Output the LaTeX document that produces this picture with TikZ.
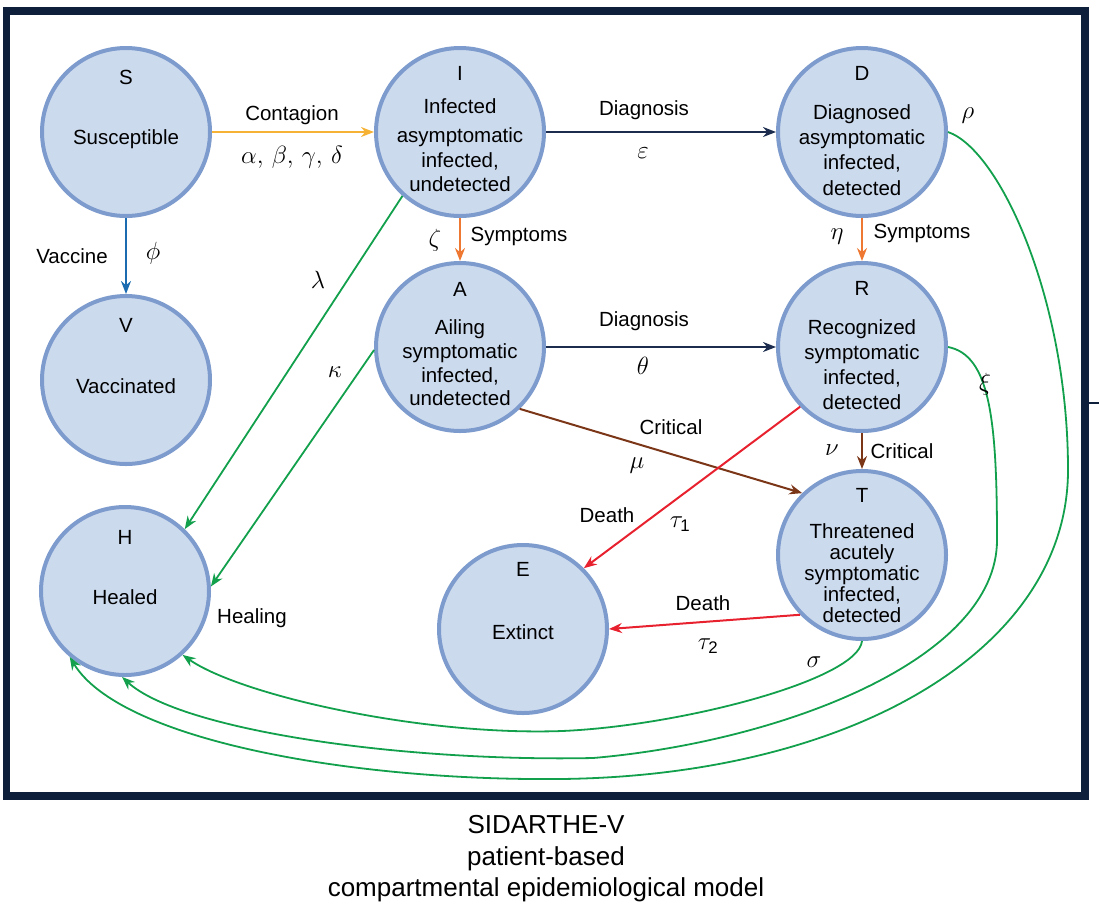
\documentclass[tikz,border=0pt]{standalone}
\usepackage{fontspec}
\setmainfont{Liberation Sans}
\usepackage{amsmath}
\usetikzlibrary{arrows.meta,calc}
\definecolor{framec}{HTML}{0D1F3A}
\definecolor{cfill}{HTML}{CCDAEE}
\definecolor{cborder}{HTML}{7D9BCD}
\definecolor{corange}{HTML}{F6B234}
\definecolor{csympt}{HTML}{EE7832}
\definecolor{cnavy}{HTML}{1B2C4E}
\definecolor{cvblue}{HTML}{1A6BAF}
\definecolor{cgreen}{HTML}{12A04C}
\definecolor{cbrown}{HTML}{7B3517}
\definecolor{cred}{HTML}{E8212F}
\begin{document}
\begin{tikzpicture}[x=1pt,y=1pt,
  comp/.style={circle,draw=cborder,fill=cfill,line width=4pt,minimum size=168pt,inner sep=0pt},
  lbl/.style={font=\fontsize{20.5}{24}\selectfont,inner sep=0pt},
  mlbl/.style={font=\fontsize{24}{28}\selectfont,inner sep=0pt},
  desc/.style={lbl,align=center},
  con/.style={line width=2pt,-{Stealth[length=13pt,width=10pt]}},
  gcon/.style={line width=1.8pt,cgreen,-{Stealth[length=13pt,width=10pt]}},
]
\useasboundingbox (0,0) rectangle (1099,-906);
\draw[framec,line width=7.5pt] (6.5,-11) rectangle (1085,-796);
\draw[framec,line width=1.5pt] (1088,-403) -- (1099,-403);

% compartments
\node[comp] (S) at (126,-132) {};
\node[comp] (I) at (460,-132) {};
\node[comp] (D) at (862,-132) {};
\node[comp] (V) at (126,-380) {};
\node[comp] (A) at (460,-347) {};
\node[comp] (R) at (862,-347) {};
\node[comp] (T) at (862,-555) {};
\node[comp] (H) at (125,-591) {};
\node[comp] (E) at (523,-629) {};

% letters
\node[lbl] (Sl) at ($(S)+(0,55)$) {S};
\node[lbl] (Il) at ($(I)+(0,59)$) {I};
\node[lbl] (Dl) at ($(D)+(0,59)$) {D};
\node[lbl] (Vl) at ($(V)+(0,55)$) {V};
\node[lbl] (Al) at ($(A)+(0,58)$) {A};
\node[lbl] (Rl) at ($(R)+(0,59)$) {R};
\node[lbl] (Tl) at ($(T)+(0,60)$) {T};
\node[lbl] (Hl) at ($(H)+(0,54)$) {H};
\node[lbl] (El) at ($(E)+(0,60)$) {E};

% descriptions
\node[desc] (Sd) at ($(S)+(0,-7)$) {Susceptible};
\node[desc] (Vd) at ($(V)+(0,-6)$) {Vaccinated};
\node[desc] (Hd) at ($(H)+(0,-6)$) {Healed};
\node[desc] (Ed) at ($(E)+(0,-3)$) {Extinct};
\node[desc,font=\fontsize{20.5}{24.5}\selectfont] (Id) at ($(I)+(0,-13)$) {Infected\\[5pt]asymptomatic\\infected,\\undetected};
\node[desc,font=\fontsize{20.5}{25.3}\selectfont] (Dd) at ($(D)+(0,-18)$) {Diagnosed\\asymptomatic\\infected,\\detected};
\node[desc,font=\fontsize{20.5}{23.7}\selectfont] (Ad) at ($(A)+(0,-16)$) {Ailing\\symptomatic\\infected,\\undetected};
\node[desc,font=\fontsize{20.5}{25}\selectfont] (Rd) at ($(R)+(0,-18)$) {Recognized\\symptomatic\\infected,\\detected};
\node[desc,font=\fontsize{20.5}{21}\selectfont] (Td) at ($(T)+(0,-18)$) {Threatened\\acutely\\symptomatic\\infected,\\detected};

% straight connectors
\draw[con,corange,line width=2.3pt] (S) -- (I);
\draw[con,cnavy] (I) -- (D);
\draw[con,cvblue] (S) -- (V);
\draw[con,csympt] (I) -- (A);
\draw[con,csympt] (D) -- (R);
\draw[con,cnavy] (A) -- (R);
\draw[con,cbrown] (R) -- (T);
\draw[gcon] (I.228) -- (H.46);
\draw[gcon] (A.182) -- (H.3);
\draw[con,cbrown] (A.-46) -- (T.134);
\draw[con,cred] (R.224) -- (E.45);
\draw[con,cred] (T.224) -- (E.0);

% curved healing connectors
\draw[gcon] (T.270) .. controls (858,-680) and (680,-726) .. (562,-731)
  .. controls (420,-736) and (240,-695) .. (H.312);
\draw[gcon] (R.0) .. controls (990,-355) and (997,-420) .. (997,-540)
  .. controls (997,-660) and (780,-742) .. (593,-758)
  .. controls (400,-762) and (180,-730) .. (H.268);
\draw[gcon] (D.0) .. controls (1000,-150) and (1068,-300) .. (1068,-470)
  .. controls (1068,-650) and (850,-776) .. (560,-779)
  .. controls (350,-781) and (120,-740) .. (H.230);

% edge labels
\node[lbl] (l1) at (292,-115) {Contagion};
\node[mlbl,font=\fontsize{23}{27}\selectfont] (l2) at (292,-157) {$\alpha,\,\beta,\,\gamma,\,\delta$};
\node[lbl] (l3) at (644,-110) {Diagnosis};
\node[mlbl] (l4) at (643,-153) {$\varepsilon$};
\node[lbl] (l5) at (72,-256) {Vaccine};
\node[mlbl] (l6) at (153,-253) {$\phi$};
\node[mlbl] (l7) at (435,-240) {$\zeta$};
\node[lbl] (l8) at (519,-236) {Symptoms};
\node[mlbl] (l9) at (837,-237) {$\eta$};
\node[lbl] (l10) at (922,-233) {Symptoms};
\node[lbl] (l11) at (644,-321) {Diagnosis};
\node[mlbl] (l12) at (643,-366) {$\theta$};
\node[mlbl] (l13) at (318,-280) {$\lambda$};
\node[mlbl] (l14) at (335,-372) {$\kappa$};
\node[lbl] (l15) at (252,-618) {Healing};
\node[lbl] (l16) at (671,-427) {Critical};
\node[mlbl] (l17) at (637,-466) {$\mu$};
\node[mlbl] (l18) at (832,-450) {$\nu$};
\node[lbl] (l19) at (902,-451) {Critical};
\node[lbl] (l20) at (607,-515) {Death};
\node[mlbl] (l21) at (680,-524) {$\tau_{\text{1}}$};
\node[lbl] (l22) at (703,-603) {Death};
\node[mlbl] (l23) at (708,-646) {$\tau_{\text{2}}$};
\node[mlbl] (l24) at (814,-662) {$\sigma$};
\node[mlbl] (l25) at (968,-116) {$\rho$};
\node[mlbl] (l26) at (985,-384) {$\xi$};

% caption
\node[align=center,inner sep=0pt,font=\fontsize{26}{31.5}\selectfont] (cap) at (546,-859) {SIDARTHE-V\\patient-based\\compartmental epidemiological model};
\end{tikzpicture}
\end{document}
